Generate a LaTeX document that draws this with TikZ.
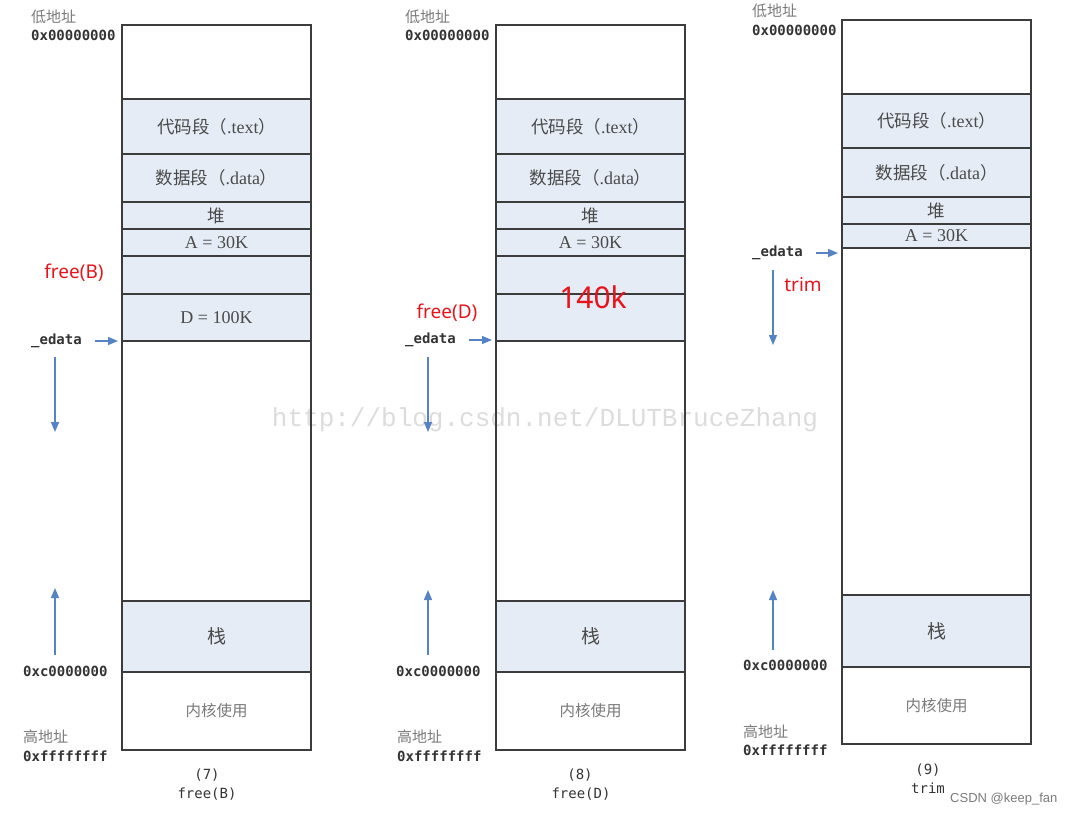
\documentclass[tikz,border=0pt]{standalone}
\usepackage{fontspec}
\setmainfont{Liberation Serif}
\setsansfont{Noto Sans}
\setmonofont{DejaVu Sans Mono}
\newfontfamily\cjk{Noto Sans CJK SC}
\newfontfamily\wmfont{Liberation Mono}
\newfontfamily\csdnfont{Liberation Sans}
\usepackage{tikz}
\usetikzlibrary{positioning,arrows.meta}
\definecolor{segline}{HTML}{3C3C3C}
\definecolor{segfill}{HTML}{E5ECF6}
\definecolor{segtext}{HTML}{4A4A4A}
\definecolor{addrgray}{HTML}{333333}
\definecolor{softgray}{HTML}{7A7A7A}
\definecolor{arrblue}{HTML}{5583C6}
\definecolor{notered}{HTML}{E8141B}
\definecolor{wmgray}{HTML}{DCDCDC}
\newcommand{\hz}[1]{{\cjk\fontsize{17.5}{19}\selectfont #1}}

\begin{document}
\begin{tikzpicture}[
  x=1pt,y=-1pt,
  node distance=0pt,
  seg/.style={draw=segline,line width=1.4pt,minimum width=189pt,inner sep=0pt,outer sep=0pt,text=segtext,font=\fontsize{18}{20}\selectfont},
  used/.style={seg,fill=segfill},
  addr/.style={font=\ttfamily\bfseries\fontsize{14}{16}\selectfont,text=addrgray,inner sep=0pt,anchor=west},
  zh/.style={font=\cjk\fontsize{15}{17}\selectfont,text=softgray,inner sep=0pt,anchor=west},
  kern/.style={font=\cjk\fontsize{15.5}{17}\selectfont,text=softgray},
  note/.style={font=\sffamily\fontsize{19}{21}\selectfont,text=notered,inner sep=0pt},
  caption/.style={font=\ttfamily\fontsize{14}{16}\selectfont,text=addrgray,inner sep=0pt},
  arr/.style={-{Triangle[length=10pt,width=8pt]},draw=arrblue,line width=1.3pt}
]
\useasboundingbox (0,0) rectangle (1073,816);

% watermark behind everything
\node[font=\wmfont\fontsize{26}{28}\selectfont,text=wmgray,inner sep=0pt] (wm) at (545,420) {http://blog.csdn.net/DLUTBruceZhang};

% (7) free(B)
\node[seg,anchor=north west,minimum height=74pt] (top1) at (122,25) {};
\node[used,below=of top1,minimum height=55pt] (text1) {\hz{代码段（}.text\hz{）}};
\node[used,below=of text1,minimum height=48pt] (data1) {\hz{数据段（}.data\hz{）}};
\node[used,below=of data1,minimum height=27pt] (heap1) {\hz{堆}};
\node[used,below=of heap1,minimum height=27pt] (heapa1) {A = 30K};
\node[used,below=of heapa1,minimum height=38pt] (hole1) {};
\node[used,below=of hole1,minimum height=47pt] (heapd1) {D = 100K};
\node[seg,below=of heapd1,minimum height=260pt] (gap1) {};
\node[used,below=of gap1,minimum height=71pt] (stack1) {{\cjk\fontsize{19}{21}\selectfont 栈}};
\node[seg,below=of stack1,minimum height=78pt] (kern1) {};
\node[kern] (kt1) at (kern1) {内核使用};

\node[zh] (low1) at (31,17) {低地址};
\node[addr] (lowaddr1) at (31,35) {0x00000000};
\node[note] (fb1) at (74,273) {free(B)};
\node[addr] (edata1) at (31,341) {\_edata};
\coordinate (dn1a) at (55,357);
\coordinate (dn1b) at (55,432);
\coordinate (up1a) at (55,655);
\coordinate (up1b) at (55,588);
\node[addr] (kaddr1) at (23,671) {0xc0000000};
\node[zh] (high1) at (23,737) {高地址};
\node[addr] (highaddr1) at (23,756) {0xffffffff};
\node[caption] (num1) at (207,775) {(7)};
\node[caption] (cap1) at (207,794) {free(B)};

\draw[arr,shorten <=13pt,shorten >=4pt] (edata1) -- (edata1 -| gap1.west);
\draw[arr] (dn1a) -- (dn1b);
\draw[arr] (up1a) -- (up1b);

% (8) free(D)
\node[seg,anchor=north west,minimum height=74pt] (top2) at (496,25) {};
\node[used,below=of top2,minimum height=55pt] (text2) {\hz{代码段（}.text\hz{）}};
\node[used,below=of text2,minimum height=48pt] (data2) {\hz{数据段（}.data\hz{）}};
\node[used,below=of data2,minimum height=27pt] (heap2) {\hz{堆}};
\node[used,below=of heap2,minimum height=27pt] (heapa2) {A = 30K};
\node[used,below=of heapa2,minimum height=38pt] (hole2) {};
\node[used,below=of hole2,minimum height=47pt] (holeb2) {};
\node[seg,below=of holeb2,minimum height=260pt] (gap2) {};
\node[used,below=of gap2,minimum height=71pt] (stack2) {{\cjk\fontsize{19}{21}\selectfont 栈}};
\node[seg,below=of stack2,minimum height=78pt] (kern2) {};
\node[kern] (kt2) at (kern2) {内核使用};
\node[note,font=\sffamily\fontsize{30}{32}\selectfont] (big2) at (593,297) {140k};

\node[zh] (low2) at (405,17) {低地址};
\node[addr] (lowaddr2) at (405,35) {0x00000000};
\node[note] (fd2) at (447,313) {free(D)};
\node[addr] (edata2) at (405,340) {\_edata};
\coordinate (dn2a) at (428,357);
\coordinate (dn2b) at (428,432);
\coordinate (up2a) at (428,655);
\coordinate (up2b) at (428,590);
\node[addr] (kaddr2) at (396,671) {0xc0000000};
\node[zh] (high2) at (397,737) {高地址};
\node[addr] (highaddr2) at (397,756) {0xffffffff};
\node[caption] (num2) at (580,775) {(8)};
\node[caption] (cap2) at (581,794) {free(D)};

\draw[arr,shorten <=13pt,shorten >=4pt] (edata2) -- (edata2 -| gap2.west);
\draw[arr] (dn2a) -- (dn2b);
\draw[arr] (up2a) -- (up2b);

% (9) trim
\node[seg,anchor=north west,minimum height=74pt] (top3) at (842,20) {};
\node[used,below=of top3,minimum height=54pt] (text3) {\hz{代码段（}.text\hz{）}};
\node[used,below=of text3,minimum height=49pt] (data3) {\hz{数据段（}.data\hz{）}};
\node[used,below=of data3,minimum height=27pt] (heap3) {\hz{堆}};
\node[used,below=of heap3,minimum height=24pt] (heapa3) {A = 30K};
\node[seg,below=of heapa3,minimum height=347pt] (gap3) {};
\node[used,below=of gap3,minimum height=72pt] (stack3) {{\cjk\fontsize{19}{21}\selectfont 栈}};
\node[seg,below=of stack3,minimum height=77pt] (kern3) {};
\node[kern] (kt3) at (kern3) {内核使用};

\node[zh] (low3) at (752,11) {低地址};
\node[addr] (lowaddr3) at (752,30) {0x00000000};
\node[addr] (edata3) at (752,253) {\_edata};
\node[note] (tr3) at (803,285) {trim};
\coordinate (dn3a) at (773,270);
\coordinate (dn3b) at (773,345);
\coordinate (up3a) at (773,650);
\coordinate (up3b) at (773,590);
\node[addr] (kaddr3) at (743,665) {0xc0000000};
\node[zh] (high3) at (743,732) {高地址};
\node[addr] (highaddr3) at (743,750) {0xffffffff};
\node[caption] (num3) at (928,770) {(9)};
\node[caption] (cap3) at (928,788) {trim};

\draw[arr,shorten <=13pt,shorten >=4pt] (edata3) -- (edata3 -| gap3.west);
\draw[arr] (dn3a) -- (dn3b);
\draw[arr] (up3a) -- (up3b);

\node[font=\csdnfont\fontsize{13}{15}\selectfont,text=softgray,inner sep=0pt,anchor=west] (csdn) at (950,799) {CSDN @keep\_fan};
\end{tikzpicture}
\end{document}
